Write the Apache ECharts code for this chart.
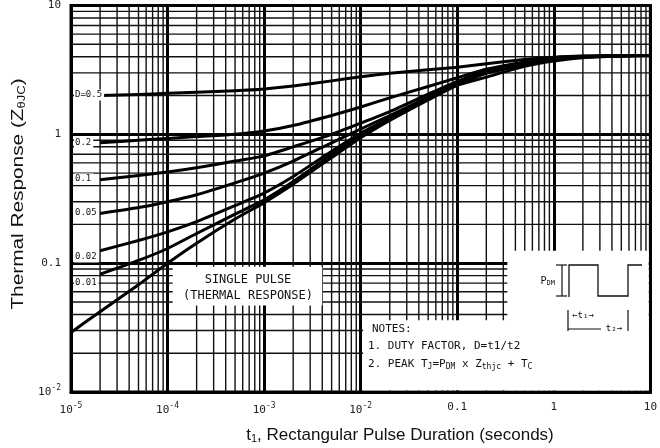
<!DOCTYPE html>
<html>
<head>
<meta charset="utf-8">
<script src="https://cdn.jsdelivr.net/npm/echarts@6/dist/echarts.min.js"></script>
<style>
  html, body { margin: 0; padding: 0; background: #fff; }
  #chart { width: 660px; height: 448px; }
</style>
</head>
<body>
<div id="chart"></div>
<script>
// pulse duration (s) for the duty-factor curves
const durations = [2e-5, 5e-5, 1e-4, 2e-4, 5e-4, 1e-3, 2e-3, 5e-3, 1e-2, 2e-2, 5e-2, 0.1, 0.2, 0.5, 1, 2, 5, 10];
// single pulse starts one step earlier
const singleDurations = [1e-5, 2e-5, 5e-5, 1e-4, 2e-4, 5e-4, 1e-3, 2e-3, 5e-3, 1e-2, 2e-2, 5e-2, 0.1, 0.2, 0.5, 1, 2, 5, 10];

const d05 = [2.0, 2.04, 2.08, 2.12, 2.18, 2.25, 2.37, 2.6, 2.8, 2.98, 3.17, 3.32, 3.53, 3.81, 3.97, 4.05, 4.08, 4.1];
const d02 = [0.86, 0.9, 0.93, 0.96, 1.0, 1.06, 1.17, 1.4, 1.63, 1.92, 2.35, 2.75, 3.2, 3.65, 3.92, 4.03, 4.07, 4.1];
const d01 = [0.445, 0.48, 0.51, 0.55, 0.62, 0.68, 0.8, 1.0, 1.22, 1.5, 2.05, 2.58, 3.1, 3.6, 3.9, 4.02, 4.07, 4.1];
const d005 = [0.243, 0.27, 0.3, 0.34, 0.42, 0.5, 0.62, 0.86, 1.1, 1.4, 1.95, 2.5, 3.03, 3.55, 3.87, 4.01, 4.07, 4.1];
const d002 = [0.125, 0.15, 0.175, 0.21, 0.28, 0.35, 0.47, 0.74, 1.02, 1.34, 1.9, 2.45, 3.0, 3.5, 3.83, 4.0, 4.07, 4.1];
const d001 = [0.082, 0.105, 0.13, 0.17, 0.24, 0.31, 0.43, 0.7, 0.98, 1.31, 1.88, 2.42, 2.97, 3.45, 3.78, 3.98, 4.07, 4.1];
const singlePulse = [0.029, 0.042, 0.068, 0.1, 0.143, 0.22, 0.295, 0.41, 0.66, 0.94, 1.28, 1.85, 2.4, 2.78, 3.37, 3.7, 3.93, 4.05, 4.1];

const dutyLabels = ['D=0.5', '0.2', '0.1', '0.05', '0.02', '0.01'];
const xTickLabels = ['10{sup|-5}', '10{sup|-4}', '10{sup|-3}', '10{sup|-2}', '0.1', '1', '10'];
const yTickLabels = ['10{sup|-2}', '0.1', '1', '10'];

// minor grid positions (2..9 in each decade)
const minorX = [];
for (let e = -5; e < 1; e++) for (let k = 2; k <= 9; k++) minorX.push(k * Math.pow(10, e));
const minorY = [];
for (let e = -2; e < 1; e++) for (let k = 2; k <= 9; k++) minorY.push(k * Math.pow(10, e));

// white panels behind the notes: [t from, Z from, t to, Z to]
const panels = [
  [1.13e-4, 0.047, 4e-3, 0.094],
  [1.06e-2, 0.0103, 9.6, 0.036],
  [0.33, 0.0103, 9.6, 0.125]
];

const mono = 'DejaVu Sans Mono';
const supRich = { sup: { fontSize: 8, verticalAlign: 'top', padding: [0, 0, 8, 0], fontFamily: mono, color: '#222' } };

function curve(xs, ys) {
  return {
    type: 'line',
    z: 6,
    data: xs.map((x, i) => [x, ys[i]]),
    symbol: 'none',
    smooth: 0.2,
    lineStyle: { color: '#000', width: 3, join: 'round' },
    silent: true
  };
}

const chart = echarts.init(document.getElementById('chart'));
chart.setOption({
  animation: false,
  backgroundColor: '#fff',
  grid: { left: 71, right: 9, top: 5, bottom: 56, show: true, borderColor: '#000', borderWidth: 3 },
  xAxis: {
    type: 'log', logBase: 10, min: 1e-5, max: 10,
    axisLine: { show: true, lineStyle: { color: '#000', width: 3 } },
    axisTick: { show: false },
    splitLine: { show: true, lineStyle: { color: '#000', width: 3 } },
    axisLabel: {
      margin: 10, fontFamily: mono, fontSize: 11, color: '#222',
      formatter: v => xTickLabels[Math.round(Math.log10(v)) + 5],
      rich: supRich
    }
  },
  yAxis: {
    type: 'log', logBase: 10, min: 0.01, max: 10,
    axisLine: { show: true, lineStyle: { color: '#000', width: 3 } },
    axisTick: { show: false },
    splitLine: { show: true, lineStyle: { color: '#000', width: 3 } },
    axisLabel: {
      margin: 10, fontFamily: mono, fontSize: 11, color: '#222',
      formatter: v => yTickLabels[Math.round(Math.log10(v)) + 2],
      rich: supRich
    }
  },
  series: [
    {
      // minor vertical grid
      type: 'custom', z: 1, silent: true,
      data: minorX.map(v => [v, 1]),
      encode: { x: 0, y: 1 },
      renderItem: (params, api) => {
        const x = api.coord([api.value(0), 1])[0];
        const cs = params.coordSys;
        return { type: 'line', shape: { x1: x, y1: cs.y, x2: x, y2: cs.y + cs.height }, style: { stroke: '#111', lineWidth: 1.4 } };
      }
    },
    {
      // minor horizontal grid
      type: 'custom', z: 1, silent: true,
      data: minorY.map(v => [1e-3, v]),
      encode: { x: 0, y: 1 },
      renderItem: (params, api) => {
        const y = api.coord([1e-3, api.value(1)])[1];
        const cs = params.coordSys;
        return { type: 'line', shape: { x1: cs.x, y1: y, x2: cs.x + cs.width, y2: y }, style: { stroke: '#111', lineWidth: 1.4 } };
      }
    },
    {
      type: 'custom', z: 3, silent: true,
      data: panels,
      encode: { x: [0, 2], y: [1, 3] },
      renderItem: (params, api) => {
        const p1 = api.coord([api.value(0), api.value(1)]);
        const p2 = api.coord([api.value(2), api.value(3)]);
        return { type: 'rect', shape: { x: p1[0], y: p2[1], width: p2[0] - p1[0], height: p1[1] - p2[1] }, style: { fill: '#fff' } };
      }
    },
    curve(durations, d05),
    curve(durations, d02),
    curve(durations, d01),
    curve(durations, d005),
    curve(durations, d002),
    curve(durations, d001),
    curve(singleDurations, singlePulse)
  ],
  graphic: [
    // axis titles
    {
      type: 'text', x: 19, y: 194, rotation: Math.PI / 2, scaleX: 1.3, z: 10,
      style: {
        text: 'Thermal Response (Z{sub|θJC})', font: '16px "Liberation Sans"', fill: '#111',
        align: 'center', verticalAlign: 'middle',
        rich: { sub: { fontSize: 10, fontFamily: 'Liberation Sans', verticalAlign: 'bottom', padding: [6, 0, 0, 0] } }
      }
    },
    {
      type: 'text', x: 400, y: 435, z: 10,
      style: {
        text: 't{sub|1}, Rectangular Pulse Duration (seconds)', font: '17px "Liberation Sans"', fill: '#111',
        align: 'center', verticalAlign: 'middle',
        rich: { sub: { fontSize: 11, fontFamily: 'Liberation Sans', verticalAlign: 'bottom', padding: [7, 0, 0, 0] } }
      }
    },
    // duty factor labels
    ...dutyLabels.map((t, i) => ({
      type: 'text', x: 74, y: [95, 143, 179, 213, 257, 283][i], z: 10,
      style: {
        text: t, font: '9px "DejaVu Sans Mono"', fill: '#111', verticalAlign: 'middle',
        backgroundColor: '#fff', padding: [1, 2, 1, 1]
      }
    })),
    // single pulse note
    {
      type: 'text', x: 248, y: 280, z: 10,
      style: { text: 'SINGLE PULSE', font: '12px "DejaVu Sans Mono"', fill: '#111', align: 'center', verticalAlign: 'middle' }
    },
    {
      type: 'text', x: 248, y: 296, z: 10,
      style: { text: '(THERMAL RESPONSE)', font: '12px "DejaVu Sans Mono"', fill: '#111', align: 'center', verticalAlign: 'middle' }
    },
    // notes
    {
      type: 'text', x: 372, y: 329, z: 10,
      style: { text: 'NOTES:', font: '11px "DejaVu Sans Mono"', fill: '#111', verticalAlign: 'middle' }
    },
    {
      type: 'text', x: 368, y: 346, z: 10,
      style: { text: '1. DUTY FACTOR, D=t1/t2', font: '11px "DejaVu Sans Mono"', fill: '#111', verticalAlign: 'middle' }
    },
    {
      type: 'text', x: 368, y: 364, z: 10,
      style: {
        text: '2. PEAK T{s|J}=P{s|DM} x Z{s|thjc} + T{s|C}', font: '11px "DejaVu Sans Mono"', fill: '#111', verticalAlign: 'middle',
        rich: { s: { fontSize: 8, fontFamily: mono, verticalAlign: 'bottom', padding: [5, 0, 0, 0] } }
      }
    },
    // pulse sketch
    {
      type: 'polyline', z: 10,
      shape: { points: [[569, 297], [569, 265], [598, 265], [598, 296], [628, 296], [628, 265], [642, 265]] },
      style: { stroke: '#111', lineWidth: 1.3, fill: null }
    },
    { type: 'line', z: 10, shape: { x1: 562, y1: 265, x2: 562, y2: 296 }, style: { stroke: '#111', lineWidth: 1.2 } },
    { type: 'line', z: 10, shape: { x1: 556, y1: 265, x2: 567, y2: 265 }, style: { stroke: '#111', lineWidth: 1.2 } },
    { type: 'line', z: 10, shape: { x1: 556, y1: 296, x2: 567, y2: 296 }, style: { stroke: '#111', lineWidth: 1.2 } },
    {
      type: 'text', x: 555, y: 281, z: 10,
      style: {
        text: 'P{s|DM}', font: '10px "DejaVu Sans Mono"', fill: '#111', align: 'right', verticalAlign: 'middle',
        rich: { s: { fontSize: 7, fontFamily: mono, verticalAlign: 'bottom', padding: [4, 0, 0, 0] } }
      }
    },
    { type: 'line', z: 10, shape: { x1: 568, y1: 310, x2: 568, y2: 331 }, style: { stroke: '#111', lineWidth: 1.2 } },
    { type: 'line', z: 10, shape: { x1: 628, y1: 310, x2: 628, y2: 331 }, style: { stroke: '#111', lineWidth: 1.2 } },
    { type: 'line', z: 10, shape: { x1: 568, y1: 329, x2: 601, y2: 329 }, style: { stroke: '#111', lineWidth: 1.2 } },
    {
      type: 'text', x: 583, y: 316, z: 10,
      style: { text: '←t₁→', font: '9px "DejaVu Sans Mono"', fill: '#111', align: 'center', verticalAlign: 'middle' }
    },
    {
      type: 'text', x: 614, y: 329, z: 10,
      style: { text: 't₂→', font: '9px "DejaVu Sans Mono"', fill: '#111', align: 'center', verticalAlign: 'middle' }
    }
  ]
});
</script>
</body>
</html>
